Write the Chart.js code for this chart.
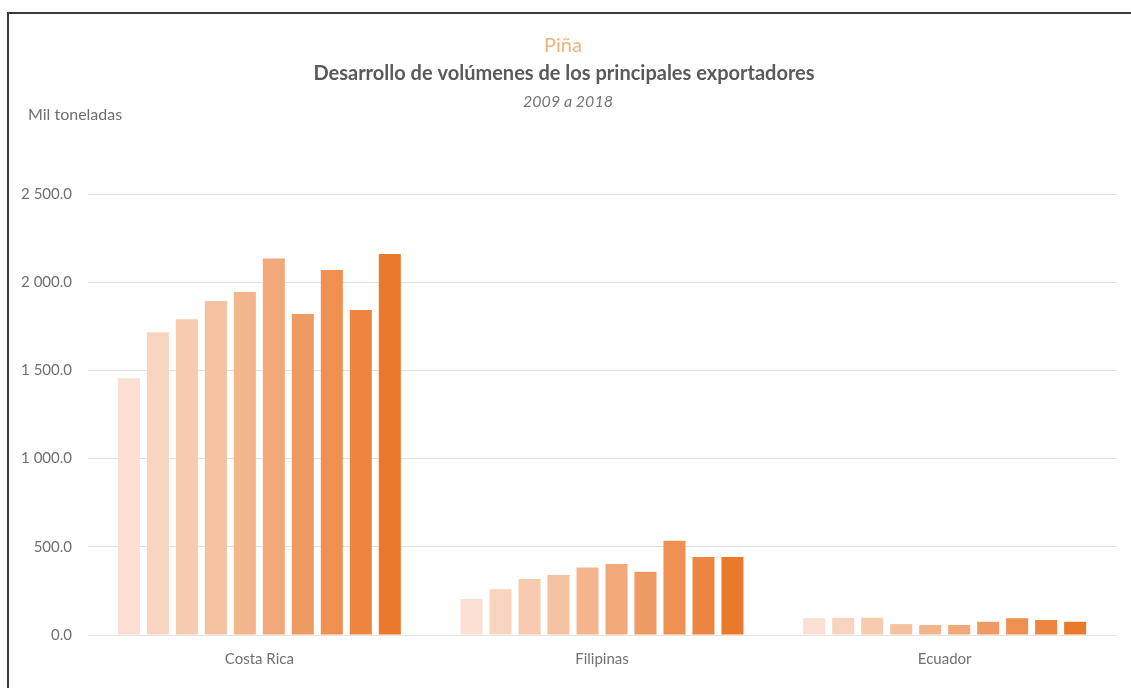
<!DOCTYPE html>
<html lang="es">
<head>
  <meta charset="UTF-8" />
  <title>Piña - principales exportadores</title>
  <script src="https://cdn.jsdelivr.net/npm/chart.js"></script>
  <style>
    html, body {
      margin: 0;
      padding: 0;
      background: #ffffff;
      overflow: hidden;
    }

    #wrap {
      position: relative;
      width: 1131px;
      height: 688px;
    }

    #frame {
      position: absolute;
      left: 7px;
      top: 12px;
      right: -10px;
      bottom: -10px;
      border-top: 2px solid #3a3a3a;
      border-left: 2px solid #3a3a3a;
      pointer-events: none;
    }
  </style>
</head>
<body>

<div id="wrap">
  <canvas id="barChart" width="1131" height="688"></canvas>
  <div id="frame"></div>
</div>

<script>
  const countries = ["Costa Rica", "Filipinas", "Ecuador"];
  const years = ["2009", "2010", "2011", "2012", "2013", "2014", "2015", "2016", "2017", "2018"];

  // miles de toneladas por año: [Costa Rica, Filipinas, Ecuador]
  const v2009 = [1455, 204, 95];
  const v2010 = [1716, 259, 97];
  const v2011 = [1790, 317, 98];
  const v2012 = [1893, 340, 62];
  const v2013 = [1944, 382, 57];
  const v2014 = [2135, 402, 57];
  const v2015 = [1820, 359, 75];
  const v2016 = [2069, 535, 95];
  const v2017 = [1842, 442, 85];
  const v2018 = [2160, 442, 75];
  const yearValues = [v2009, v2010, v2011, v2012, v2013, v2014, v2015, v2016, v2017, v2018];

  const yTicks = [0, 500, 1000, 1500, 2000, 2500];

  const barColors = [
    "#fadfd2", "#f8d3be", "#f7cbb0", "#f5c2a1", "#f3b58b",
    "#f1a97a", "#ef9a62", "#ee9050", "#ec8540", "#ea792c"
  ];

  const fmt = v => {
    const [ent, dec] = v.toFixed(1).split(".");
    return ent.replace(/\B(?=(\d{3})+(?!\d))/g, " ") + "." + dec;
  };

  // encabezados dibujados sobre el canvas
  const headerPlugin = {
    id: "header",
    afterDraw(chart) {
      const ctx = chart.ctx;
      ctx.save();
      ctx.textBaseline = "alphabetic";
      ctx.textAlign = "center";

      ctx.fillStyle = "#f2b27c";
      ctx.font = "20px Lato";
      ctx.fillText("Piña", 563, 52);

      ctx.fillStyle = "#5a5a5a";
      ctx.font = "bold 20px Lato";
      ctx.fillText("Desarrollo de volúmenes de los principales exportadores", 564, 80);

      ctx.fillStyle = "#767676";
      ctx.font = "italic 16px Lato";
      ctx.fillText("2009 a 2018", 568, 107);

      ctx.textAlign = "left";
      ctx.fillStyle = "#6e6e6e";
      ctx.font = "16px Lato";
      ctx.fillText("Mil toneladas", 28, 120);
      ctx.restore();
    }
  };

  new Chart(document.getElementById("barChart"), {
    type: "bar",
    data: {
      labels: countries,
      datasets: years.map((y, i) => ({
        label: y,
        data: yearValues[i],
        backgroundColor: barColors[i],
        borderWidth: 0,
        categoryPercentage: 0.846,
        barPercentage: 0.76
      }))
    },
    options: {
      responsive: false,
      animation: false,
      layout: { padding: { top: 194, right: 15, bottom: 0, left: 0 } },
      plugins: {
        legend: { display: false },
        tooltip: { enabled: false }
      },
      scales: {
        x: {
          grid: { display: false, drawTicks: false },
          border: { display: true, color: "#e6e6e6" },
          ticks: {
            color: "#707070",
            font: { family: "Lato", size: 15 },
            padding: 15
          },
          afterFit: s => { s.height = 53; }
        },
        y: {
          min: 0,
          max: 2500,
          afterBuildTicks: s => { s.ticks = yTicks.map(v => ({ value: v })); },
          grid: { color: "#e0e0e0", drawTicks: false },
          border: { display: false },
          ticks: {
            color: "#707070",
            font: { family: "Lato", size: 15 },
            padding: 16,
            callback: v => fmt(v)
          },
          afterFit: s => { s.width = 88; }
        }
      }
    },
    plugins: [headerPlugin]
  });
</script>

</body>
</html>
